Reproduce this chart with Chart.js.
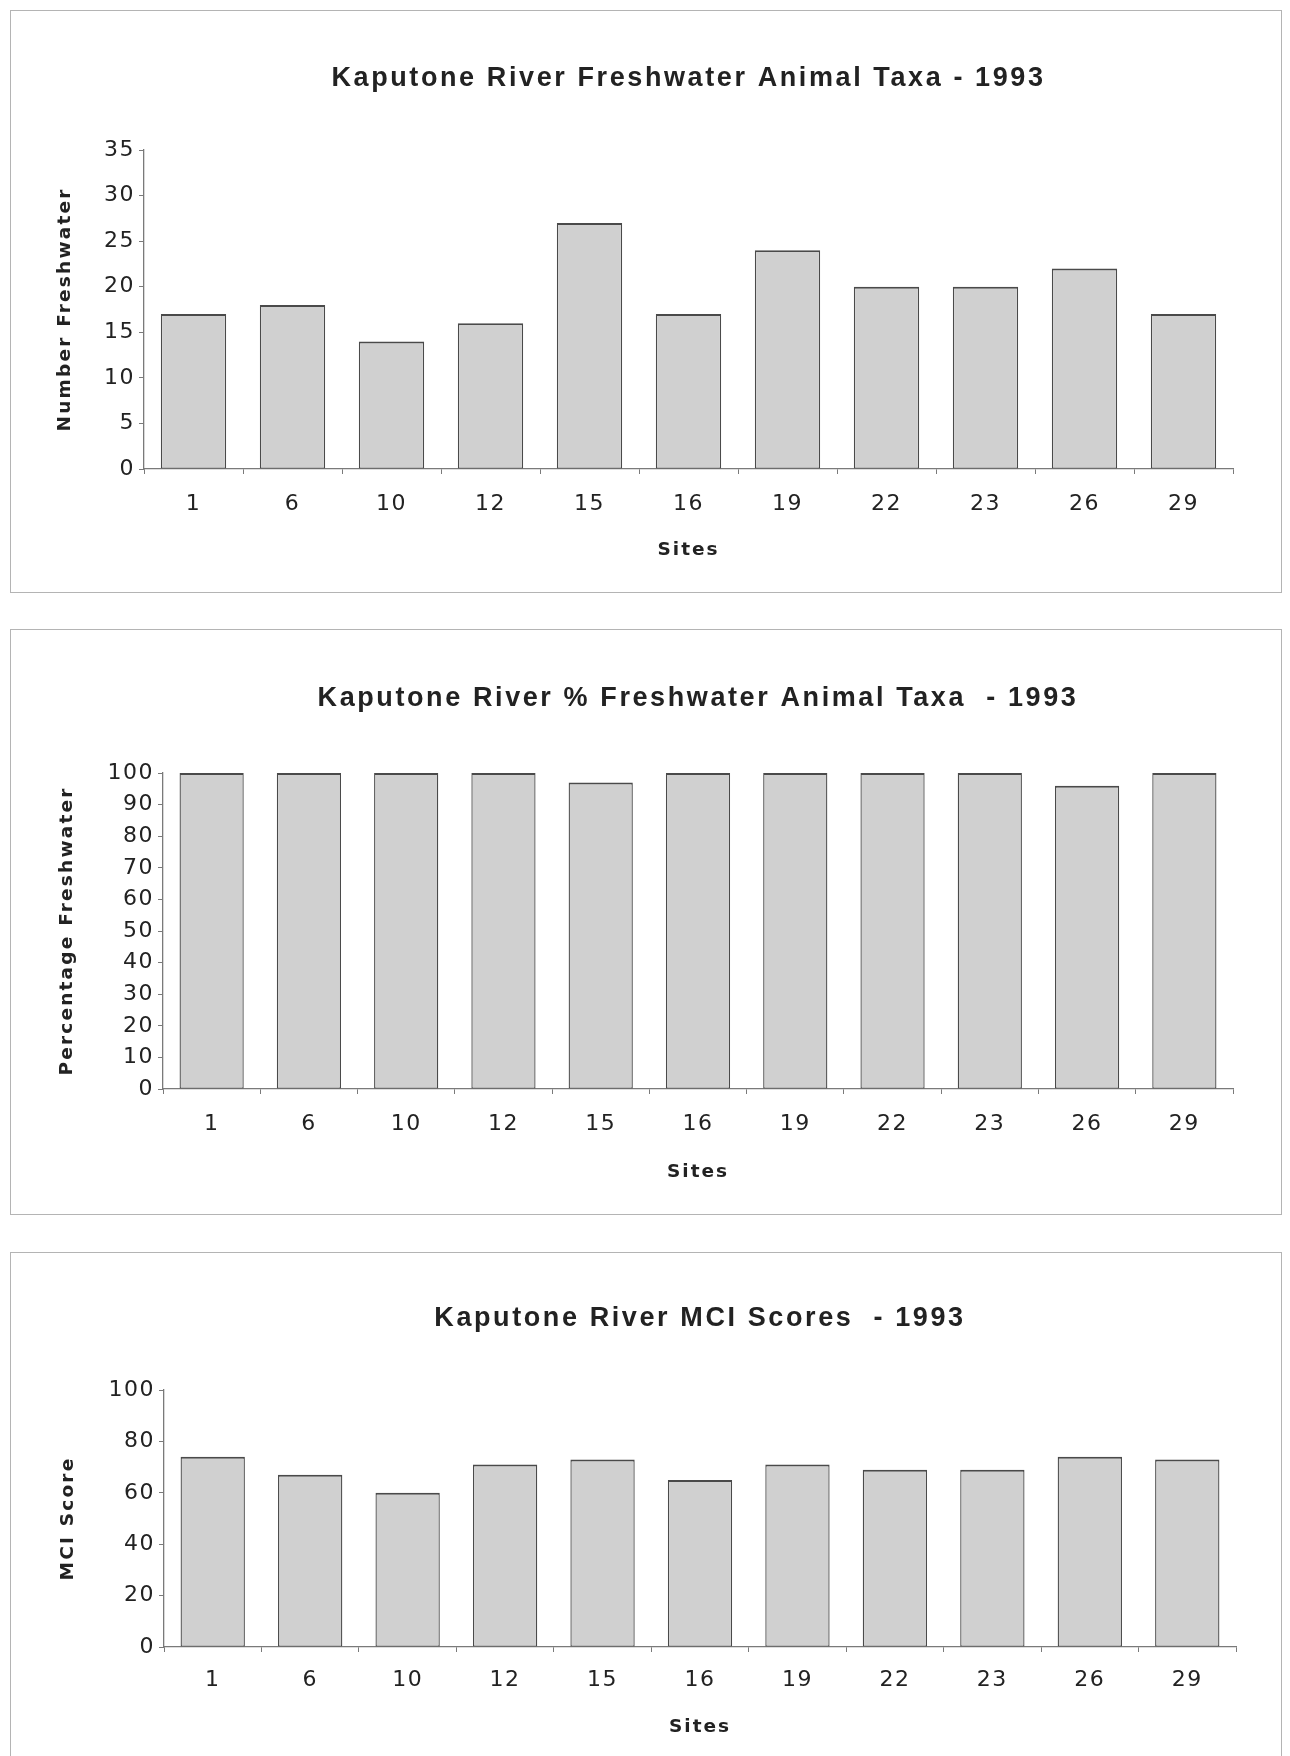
<!DOCTYPE html>
<html>
<head>
<meta charset="utf-8">
<script src="https://cdn.jsdelivr.net/npm/chart.js@4/dist/chart.umd.min.js"></script>
<style>
  html, body { margin: 0; padding: 0; background: #fff; width: 1290px; height: 1756px; overflow: hidden; }
  .box { position: absolute; border: 1px solid #b4b4b4; box-sizing: border-box; }
  canvas { position: absolute; left: 0; top: 0; }
</style>
</head>
<body>
<div class="box" id="b1" style="left:10px; top:10px; width:1272px; height:583px;"><canvas id="c1" width="1272" height="583"></canvas></div>
<div class="box" id="b2" style="left:10px; top:629px; width:1272px; height:586px;"><canvas id="c2" width="1272" height="586"></canvas></div>
<div class="box" id="b3" style="left:10px; top:1252px; width:1272px; height:520px;"><canvas id="c3" width="1272" height="520"></canvas></div>
<script>
// ---- data ----
const sites = ['1', '6', '10', '12', '15', '16', '19', '22', '23', '26', '29'];
const numberFreshwater = [17, 18, 14, 16, 27, 17, 24, 20, 20, 22, 17];
const percentFreshwater = [100, 100, 100, 100, 97, 100, 100, 100, 100, 96, 100];
const mciScores = [74, 67, 60, 71, 73, 65, 71, 69, 69, 74, 73];

const title1 = 'Kaputone River Freshwater Animal Taxa - 1993';
const title2 = 'Kaputone River % Freshwater Animal Taxa  - 1993';
const title3 = 'Kaputone River MCI Scores  - 1993';
const yTitle1 = 'Number Freshwater';
const yTitle2 = 'Percentage Freshwater';
const yTitle3 = 'MCI Score';
const xTitle = 'Sites';

// ---- styling helpers ----
function wrapSpacing(obj, method, ls) {
  if (!obj || obj['__w_' + method]) return;
  const orig = obj[method];
  obj[method] = function (...args) {
    const c = this.ctx;
    const prev = c.letterSpacing;
    c.letterSpacing = ls;
    try { return orig.apply(this, args); } finally { c.letterSpacing = prev; }
  };
  obj['__w_' + method] = true;
}
const spacingPlugin = {
  id: 'spacing',
  afterLayout(chart) {
    wrapSpacing(chart.titleBlock, 'draw', '2.6px');
    wrapSpacing(chart.scales.x, 'drawLabels', '1.5px');
    wrapSpacing(chart.scales.y, 'drawLabels', '1.5px');
    wrapSpacing(chart.scales.x, 'drawTitle', '2px');
    wrapSpacing(chart.scales.y, 'drawTitle', '2.2px');
  }
};

const axisColor = '#7a7a7a';
const textColor = '#222';

function makeChart(id, values, titleText, yTitleText, yMax, yStep, L) {
  const ctx = document.getElementById(id);
  return new Chart(ctx, {
    type: 'bar',
    data: {
      labels: sites,
      datasets: [{
        data: values,
        backgroundColor: '#d0d0d0',
        borderColor: '#4a4a4a',
        borderWidth: { top: 2, left: 1.3, right: 1.3, bottom: 1 },
        borderSkipped: false,
        categoryPercentage: 1.0,
        barPercentage: 0.66
      }]
    },
    options: {
      responsive: false,
      animation: false,
      devicePixelRatio: 1,
      layout: { padding: { left: 0, top: 0, right: L.right, bottom: 10 } },
      plugins: {
        legend: { display: false },
        tooltip: { enabled: false },
        title: {
          display: true,
          text: titleText,
          fullSize: false,
          color: textColor,
          font: { family: '"Liberation Sans", Arial, sans-serif', size: 27, weight: 'bold', lineHeight: 1.2 },
          padding: { top: L.tTop, bottom: L.tBottom }
        }
      },
      scales: {
        x: {
          offset: true,
          grid: { display: true, offset: true, drawOnChartArea: false, drawTicks: true, tickLength: 5, color: axisColor, lineWidth: 1 },
          border: { display: true, color: axisColor, width: 1.3 },
          ticks: { color: textColor, font: { family: '"DejaVu Sans", sans-serif', size: 22 }, padding: L.xPad, maxRotation: 0, autoSkip: false },
          title: { display: true, text: xTitle, color: textColor, font: { family: '"DejaVu Sans", sans-serif', size: 18.5, weight: 'bold', lineHeight: 1.2 }, padding: { top: 0, bottom: L.xTitleBottom } },
          afterFit: (s) => { s.height = L.xHeight; }
        },
        y: {
          min: 0,
          max: yMax,
          grid: { display: true, drawOnChartArea: false, drawTicks: true, tickLength: 5, color: axisColor, lineWidth: 1 },
          border: { display: true, color: axisColor, width: 1.3 },
          ticks: { stepSize: yStep, color: textColor, font: { family: '"DejaVu Sans", sans-serif', size: 22 }, padding: 4, autoSkip: false },
          title: { display: true, text: yTitleText, color: textColor, font: { family: '"DejaVu Sans", sans-serif', size: 18.5, weight: 'bold', lineHeight: 1.2 }, padding: { top: L.yTitleTop, bottom: 0 } },
          afterFit: (s) => { s.width = L.yWidth; }
        }
      }
    },
    plugins: [spacingPlugin]
  });
}

makeChart('c1', numberFreshwater, title1, yTitle1, 35, 5, {
  right: 50, tTop: 51.8, tBottom: 54.8, xPad: 17, xHeight: 115, xTitleBottom: 23.2, yWidth: 133, yTitleTop: 43.2
});
makeChart('c2', percentFreshwater, title2, yTitle2, 100, 10, {
  right: 50, tTop: 52.8, tBottom: 57.8, xPad: 17, xHeight: 117, xTitleBottom: 23.2, yWidth: 152, yTitleTop: 45.2
});
makeChart('c3', mciScores, title3, yTitle3, 100, 20, {
  right: 47, tTop: 49.8, tBottom: 54.8, xPad: 15, xHeight: 116, xTitleBottom: 25.2, yWidth: 153, yTitleTop: 46.2
});
</script>
</body>
</html>
